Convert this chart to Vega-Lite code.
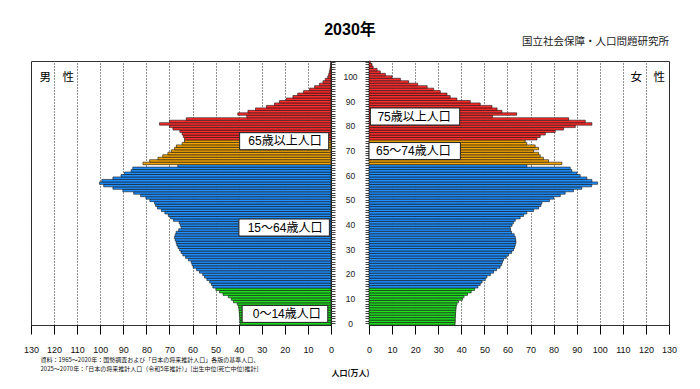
{
  "$schema": "https://vega.github.io/schema/vega-lite/v6.json",
  "padding": {"left": 22, "top": 22, "right": 5, "bottom": 2},
  "background": "white",
  "datasets": {
    "pop": [
      {"age":0,"male":39.4,"female":37.3},{"age":1,"male":39.5,"female":37.4},{"age":2,"male":39.5,"female":37.4},{"age":3,"male":39.6,"female":37.5},{"age":4,"male":39.7,"female":37.5},
      {"age":5,"male":39.8,"female":37.6},{"age":6,"male":39.9,"female":37.7},{"age":7,"male":40.1,"female":37.8},{"age":8,"male":40.6,"female":38.1},{"age":9,"male":42.3,"female":38.8},
      {"age":10,"male":43.2,"female":40.5},{"age":11,"male":44.5,"female":41.2},{"age":12,"male":46.8,"female":42.7},{"age":13,"male":48.3,"female":44.3},{"age":14,"male":49.9,"female":45.8},
      {"age":15,"male":51.2,"female":47.2},{"age":16,"male":51.8,"female":48.2},{"age":17,"male":52.6,"female":49.0},{"age":18,"male":53.8,"female":50.4},{"age":19,"male":54.8,"female":51.1},
      {"age":20,"male":55.6,"female":52.6},{"age":21,"male":57.0,"female":54.0},{"age":22,"male":58.3,"female":55.3},{"age":23,"male":59.7,"female":56.8},{"age":24,"male":60.2,"female":57.4},
      {"age":25,"male":60.6,"female":57.8},{"age":26,"male":61.8,"female":58.3},{"age":27,"male":63.0,"female":59.5},{"age":28,"male":64.2,"female":60.5},{"age":29,"male":65.0,"female":61.8},
      {"age":30,"male":65.6,"female":62.6},{"age":31,"male":66.3,"female":63.1},{"age":32,"male":66.8,"female":63.4},{"age":33,"male":67.1,"female":63.7},{"age":34,"male":67.5,"female":63.6},
      {"age":35,"male":67.8,"female":63.4},{"age":36,"male":67.5,"female":62.9},{"age":37,"male":67.1,"female":61.8},{"age":38,"male":66.0,"female":61.3},{"age":39,"male":64.9,"female":61.2},
      {"age":40,"male":65.3,"female":62.0},{"age":41,"male":65.8,"female":62.6},{"age":42,"male":68.3,"female":63.4},{"age":43,"male":69.5,"female":65.5},{"age":44,"male":70.5,"female":67.0},
      {"age":45,"male":72.0,"female":68.4},{"age":46,"male":73.5,"female":71.3},{"age":47,"male":75.2,"female":73.5},{"age":48,"male":76.0,"female":74.5},{"age":49,"male":76.5,"female":74.9},
      {"age":50,"male":78.5,"female":78.2},{"age":51,"male":80.2,"female":80.0},{"age":52,"male":82.5,"female":82.9},{"age":53,"male":85.5,"female":85.0},{"age":54,"male":90.2,"female":88.6},
      {"age":55,"male":94.5,"female":92.2},{"age":56,"male":98.5,"female":96.5},{"age":57,"male":100.3,"female":99.0},{"age":58,"male":99.3,"female":96.6},{"age":59,"male":94.5,"female":94.4},
      {"age":60,"male":91.0,"female":91.5},{"age":61,"male":89.5,"female":90.1},{"age":62,"male":86.6,"female":87.9},{"age":63,"male":85.9,"female":87.2},{"age":64,"male":66.4,"female":68.4},
      {"age":65,"male":81.5,"female":83.6},{"age":66,"male":78.6,"female":77.8},{"age":67,"male":75.0,"female":75.6},{"age":68,"male":72.9,"female":74.2},{"age":69,"male":70.7,"female":73.5},
      {"age":70,"male":69.2,"female":71.3},{"age":71,"male":67.8,"female":73.5},{"age":72,"male":67.0,"female":72.0},{"age":73,"male":64.5,"female":68.4},{"age":74,"male":63.5,"female":67.7},
      {"age":75,"male":63.5,"female":72.8},{"age":76,"male":64.0,"female":74.2},{"age":77,"male":64.5,"female":76.4},{"age":78,"male":65.5,"female":80.7},{"age":79,"male":68.5,"female":84.3},
      {"age":80,"male":70.0,"female":89.4},{"age":81,"male":74.3,"female":96.6},{"age":82,"male":70.0,"female":93.7},{"age":83,"male":62.7,"female":86.5},{"age":84,"male":36.5,"female":53.5},
      {"age":85,"male":40.4,"female":64.0},{"age":86,"male":36.0,"female":57.6},{"age":87,"male":32.7,"female":55.5},{"age":88,"male":28.0,"female":53.3},{"age":89,"male":24.5,"female":48.2},
      {"age":90,"male":22.3,"female":43.9},{"age":91,"male":19.4,"female":38.1},{"age":92,"male":16.5,"female":35.2},{"age":93,"male":14.4,"female":33.8},{"age":94,"male":11.9,"female":30.9},
      {"age":95,"male":9.3,"female":28.0},{"age":96,"male":7.1,"female":25.2},{"age":97,"male":5.0,"female":21.1},{"age":98,"male":3.5,"female":17.2},{"age":99,"male":2.5,"female":13.6},
      {"age":100,"male":1.4,"female":10.0},{"age":101,"male":1.0,"female":7.1},{"age":102,"male":0.7,"female":4.9},{"age":103,"male":0.5,"female":3.5},{"age":104,"male":0.3,"female":1.8},
      {"age":105,"male":0.2,"female":1.3},{"age":106,"male":0.1,"female":0.6}
    ],
    "notesM": [
      {"label": "65歳以上人口", "age": 74, "from": 1.0, "to": 39.6},
      {"label": "15～64歳人口", "age": 39, "from": 0.7, "to": 39.9},
      {"label": "0～14歳人口", "age": 4, "from": 1.4, "to": 38.5}
    ],
    "notesF": [
      {"label": "75歳以上人口", "age": 84, "from": 0.6, "to": 39.3},
      {"label": "65～74歳人口", "age": 70, "from": 0.0, "to": 39.6}
    ]
  },
  "spacing": 0,
  "bounds": "flush",
  "hconcat": [
    {
      "width": 300,
      "height": 264,
      "resolve": {"axis": {"x": "independent", "y": "independent"}},
      "layer": [
        {
          "data": {"name": "pop"},
          "mark": {"type": "bar", "stroke": "#111", "strokeWidth": 0.6},
          "encoding": {
            "y": {"field": "age", "type": "ordinal", "sort": "descending", "scale": {"paddingInner": 0, "paddingOuter": 0},
              "axis": {"orient": "right", "labels": false, "ticks": true, "tickSize": 4, "tickColor": "#444", "domain": false, "grid": false,
                "title": "男　性", "titleAngle": 0, "titleX": -292, "titleY": 16, "titleAlign": "left", "titleBaseline": "middle", "titleFontSize": 11.5, "titleFontWeight": "normal", "titleColor": "#000"}},
            "x": {"field": "male", "type": "quantitative", "scale": {"domain": [0, 130], "reverse": true, "nice": false},
              "axis": {"values": [0,10,20,30,40,50,60,70,80,90,100,110,120,130], "orient": "bottom", "tickSize": 9, "tickColor": "#000", "labelFontSize": 9, "labelPadding": 11, "labelOverlap": false, "labelFlush": false, "domain": false,
                "grid": true, "gridColor": "#222", "gridDash": [1, 2], "gridWidth": 1,
                "title": ["資料：1965～2020年：国勢調査および「日本の将来推計人口」各版の基準人口、", "2025～2070年：「日本の将来推計人口（令和5年推計）」[出生中位(死亡中位)推計]"],
                "titleFontSize": 6, "titleFontWeight": "normal", "titleAlign": "left", "titleX": 9, "titleY": 31, "titleLineHeight": 9, "titleBaseline": "top"}},
            "fill": {"condition": [{"test": "datum.age >= 75", "value": "#ff2d2d"}, {"test": "datum.age >= 65", "value": "#f5a500"}, {"test": "datum.age >= 15", "value": "#1f8fff"}], "value": "#1fe01f"}
          }
        },
        {
          "data": {"name": "notesM"},
          "mark": {"type": "bar", "height": 17, "fill": "white", "stroke": "#222", "strokeWidth": 1},
          "encoding": {
            "y": {"field": "age", "type": "ordinal", "sort": "descending", "axis": null},
            "x": {"field": "from", "type": "quantitative", "axis": null},
            "x2": {"field": "to"}
          }
        },
        {
          "data": {"name": "notesM"},
          "mark": {"type": "text", "align": "right", "baseline": "middle", "dx": -7, "fontSize": 12, "font": "Liberation Sans, Noto Sans CJK JP", "color": "#000"},
          "encoding": {
            "y": {"field": "age", "type": "ordinal", "sort": "descending", "axis": null},
            "x": {"field": "from", "type": "quantitative", "axis": null},
            "text": {"field": "label"}
          }
        }
      ]
    },
    {
      "width": 38,
      "height": 264,
      "view": {"stroke": null},
      "title": {"text": "2030年", "anchor": "middle", "frame": "group", "fontSize": 16, "fontWeight": "bold", "font": "Liberation Sans, Noto Sans CJK JP", "color": "#000", "offset": 23},
      "data": {"name": "pop"},
      "mark": {"type": "bar", "opacity": 0},
      "encoding": {
        "x": {"field": "male", "type": "quantitative", "scale": {"domain": [0, 130]},
          "axis": {"orient": "top", "domain": true, "domainColor": "#333", "ticks": false, "labels": false, "grid": false, "title": null}}
      }
    },
    {
      "width": 300,
      "height": 264,
      "title": {"text": "国立社会保障・人口問題研究所", "anchor": "end", "frame": "group", "fontSize": 10.5, "fontWeight": "normal", "offset": 10, "color": "#222"},
      "resolve": {"axis": {"x": "independent", "y": "independent"}},
      "layer": [
        {
          "data": {"name": "pop"},
          "mark": {"type": "bar", "stroke": "#111", "strokeWidth": 0.6},
          "encoding": {
            "y": {"field": "age", "type": "ordinal", "sort": "descending", "scale": {"paddingInner": 0, "paddingOuter": 0},
              "axis": {"orient": "left", "labelExpr": "datum.value % 10 === 0 ? datum.label : ''", "labelAlign": "center", "labelBaseline": "middle", "labelPadding": 15, "labelFontSize": 8.5, "labelColor": "#222", "labelOverlap": false,
                "ticks": true, "tickSize": 4, "tickColor": "#444", "domain": false, "grid": false,
                "title": "女　性", "titleAngle": 0, "titleX": 261, "titleY": 16, "titleAlign": "left", "titleBaseline": "middle", "titleFontSize": 11.5, "titleFontWeight": "normal", "titleColor": "#000"}},
            "x": {"field": "female", "type": "quantitative", "scale": {"domain": [0, 130], "nice": false},
              "axis": {"values": [0,10,20,30,40,50,60,70,80,90,100,110,120,130], "orient": "bottom", "tickSize": 9, "tickColor": "#000", "labelFontSize": 9, "labelPadding": 11, "labelOverlap": false, "labelFlush": false, "domain": false,
                "grid": true, "gridColor": "#222", "gridDash": [1, 2], "gridWidth": 1,
                "title": "人口(万人)", "titleFontSize": 8, "titleFontWeight": "bold", "titleAlign": "center", "titleX": -19, "titleY": 44, "titleBaseline": "top"}},
            "fill": {"condition": [{"test": "datum.age >= 75", "value": "#ff2d2d"}, {"test": "datum.age >= 65", "value": "#f5a500"}, {"test": "datum.age >= 15", "value": "#1f8fff"}], "value": "#1fe01f"}
          }
        },
        {
          "data": {"name": "notesF"},
          "mark": {"type": "bar", "height": 17, "fill": "white", "stroke": "#222", "strokeWidth": 1},
          "encoding": {
            "y": {"field": "age", "type": "ordinal", "sort": "descending", "axis": null},
            "x": {"field": "from", "type": "quantitative", "axis": null},
            "x2": {"field": "to"}
          }
        },
        {
          "data": {"name": "notesF"},
          "mark": {"type": "text", "align": "left", "baseline": "middle", "dx": 7, "fontSize": 12, "font": "Liberation Sans, Noto Sans CJK JP", "color": "#000"},
          "encoding": {
            "y": {"field": "age", "type": "ordinal", "sort": "descending", "axis": null},
            "x": {"field": "from", "type": "quantitative", "axis": null},
            "text": {"field": "label"}
          }
        }
      ]
    }
  ],
  "config": {
    "view": {"stroke": "#333", "strokeWidth": 1},
    "axis": {"labelFont": "Liberation Sans", "labelColor": "#111", "titleFont": "Noto Sans CJK JP", "titleColor": "#111"},
    "title": {"font": "Noto Sans CJK JP"}
  }
}
